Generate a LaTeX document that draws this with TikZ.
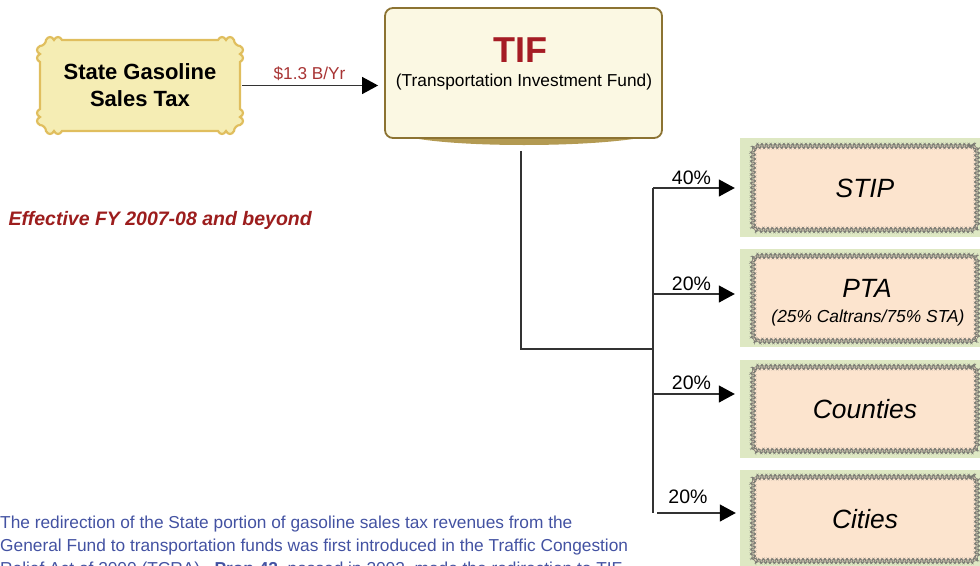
\documentclass[tikz,border=0pt]{standalone}
\usepackage{fontspec}
\setmainfont{Liberation Sans}
\usetikzlibrary{arrows.meta,decorations.pathmorphing}

\definecolor{plaquefill}{HTML}{F5EDB4}
\definecolor{plaqueline}{HTML}{E0BE5E}
\definecolor{fundfill}{HTML}{FBF8E3}
\definecolor{fundline}{HTML}{8C7332}
\definecolor{fundshade}{HTML}{B39A52}
\definecolor{panelgreen}{HTML}{DEE8C3}
\definecolor{peach}{HTML}{FCE4CE}
\definecolor{zigline}{HTML}{7C7C74}
\definecolor{wire}{HTML}{333333}
\definecolor{tifred}{HTML}{A51C24}
\definecolor{amountred}{HTML}{A83434}
\definecolor{notered}{HTML}{9C1D1D}
\definecolor{noteblue}{HTML}{4352A2}

\begin{document}
\begin{tikzpicture}[x=1pt,y=-1pt,
  plaquetext/.style={minimum width=204pt, minimum height=95pt, inner sep=0pt,
    align=center, font=\fontsize{22}{27}\selectfont\bfseries},
  plaqueedge/.style={draw=plaqueline, line width=2.2pt, fill=plaquefill},
  fund/.style={draw=fundline, line width=1.8pt, fill=fundfill,
    rounded corners=8pt, minimum width=277pt, minimum height=130pt, inner sep=0pt},
  panel/.style={fill=panelgreen, minimum width=245pt, inner sep=0pt},
  share/.style={draw=zigline, line width=0.6pt, fill=peach, rounded corners=5pt,
    decorate, decoration={zigzag, segment length=4.4pt, amplitude=1.8pt},
    minimum width=224pt, inner sep=0pt,
    font=\fontsize{26.4}{31}\selectfont\itshape},
  sharenote/.style={font=\fontsize{17.4}{21}\selectfont\itshape, inner sep=0pt},
  pct/.style={font=\fontsize{19.5}{23}\selectfont, inner sep=0pt},
  wireline/.style={draw=wire, line width=1.2pt},
  flow/.style={draw=wire, line width=1.3pt,
    -{Triangle[length=16pt,width=17pt,color=black]}},
  note/.style={anchor=base west, inner sep=0pt, text=noteblue,
    font=\fontsize{17.3}{23}\selectfont}
]
\clip (0,0) rectangle (980,565);

% source plaque: straight sides, scalloped corners
\node[plaquetext] (gas) at (140,85.5) {};
\def\pa{100}\def\pb{45.5}
\begin{scope}[shift={(gas.center)}]
\path[plaqueedge]
  ({-\pa+22},-\pb) -- ({\pa-22},-\pb)
  .. controls ({\pa-20},{-\pb-4}) and ({\pa-16},{-\pb-4}) .. ({\pa-14},-\pb)
  .. controls ({\pa-12},{-\pb-4}) and ({\pa-8},{-\pb-4}) .. ({\pa-6},-\pb)
  .. controls ({\pa-6},{-\pb+3}) and ({\pa-3},{-\pb+6}) .. (\pa,{-\pb+6})
  .. controls ({\pa+4},{-\pb+8}) and ({\pa+4},{-\pb+12}) .. (\pa,{-\pb+14})
  .. controls ({\pa+4},{-\pb+16}) and ({\pa+4},{-\pb+20}) .. (\pa,{-\pb+22})
  -- (\pa,{\pb-22})
  .. controls ({\pa+4},{\pb-20}) and ({\pa+4},{\pb-16}) .. (\pa,{\pb-14})
  .. controls ({\pa+4},{\pb-12}) and ({\pa+4},{\pb-8}) .. (\pa,{\pb-6})
  .. controls ({\pa-3},{\pb-6}) and ({\pa-6},{\pb-3}) .. ({\pa-6},\pb)
  .. controls ({\pa-8},{\pb+4}) and ({\pa-12},{\pb+4}) .. ({\pa-14},\pb)
  .. controls ({\pa-16},{\pb+4}) and ({\pa-20},{\pb+4}) .. ({\pa-22},\pb)
  -- ({-\pa+22},\pb)
  .. controls ({-\pa+20},{\pb+4}) and ({-\pa+16},{\pb+4}) .. ({-\pa+14},\pb)
  .. controls ({-\pa+12},{\pb+4}) and ({-\pa+8},{\pb+4}) .. ({-\pa+6},\pb)
  .. controls ({-\pa+6},{\pb-3}) and ({-\pa+3},{\pb-6}) .. (-\pa,{\pb-6})
  .. controls ({-\pa-4},{\pb-8}) and ({-\pa-4},{\pb-12}) .. (-\pa,{\pb-14})
  .. controls ({-\pa-4},{\pb-16}) and ({-\pa-4},{\pb-20}) .. (-\pa,{\pb-22})
  -- (-\pa,{-\pb+22})
  .. controls ({-\pa-4},{-\pb+20}) and ({-\pa-4},{-\pb+16}) .. (-\pa,{-\pb+14})
  .. controls ({-\pa-4},{-\pb+12}) and ({-\pa-4},{-\pb+8}) .. (-\pa,{-\pb+6})
  .. controls ({-\pa+3},{-\pb+6}) and ({-\pa+6},{-\pb+3}) .. ({-\pa+6},-\pb)
  .. controls ({-\pa+8},{-\pb-4}) and ({-\pa+12},{-\pb-4}) .. ({-\pa+14},-\pb)
  .. controls ({-\pa+16},{-\pb-4}) and ({-\pa+20},{-\pb-4}) .. ({-\pa+22},-\pb)
  -- cycle;
\end{scope}
\node[plaquetext] (gaslabel) at (gas.center) {State Gasoline\\[0pt]Sales Tax};

% fund box with its curled shadow
\fill[fundshade] (404,136) .. controls (450,148) and (596,148) .. (650,136) -- cycle;
\node[fund] (tif) at (523.5,73) {};
\node[text=tifred, font=\fontsize{36}{40}\selectfont\bfseries, inner sep=0pt]
  (tiftitle) at (520,50) {TIF};
\node[font=\fontsize{17.3}{20}\selectfont, inner sep=0pt]
  (tifsub) at (524,82) {(Transportation Investment Fund)};

\draw[flow, shorten >=6pt] (gas.east) -- (gas.east -| tif.west);
\node[text=amountred, font=\fontsize{17.2}{20}\selectfont, inner sep=0pt]
  (amount) at (309.5,74) {\$1.3 B/Yr};

\node[anchor=west, text=notered, font=\fontsize{19.5}{23}\selectfont\bfseries\itshape, inner sep=0pt]
  (effective) at (8.5,220) {Effective FY 2007-08 and beyond};

% destination panels
\node[panel, minimum height=99pt] (stipbg) at (862.5,187.5) {};
\node[panel, minimum height=98pt] (ptabg) at (862.5,298) {};
\node[panel, minimum height=98pt] (countiesbg) at (862.5,409) {};
\node[panel, minimum height=98pt] (citiesbg) at (862.5,519) {};

\node[share, minimum height=84pt] (stip) at (865,188) {STIP};
\node[share, minimum height=85pt] (pta) at (865,298.5) {};
\node[share, minimum height=84pt] (counties) at (865,409) {Counties};
\node[share, minimum height=84pt] (cities) at (865,519) {Cities};
\node[font=\fontsize{26.4}{31}\selectfont\itshape, inner sep=0pt] (ptatitle) at (867,288) {PTA};
\node[sharenote] (ptanote) at (868,318) {(25\% Caltrans/75\% STA)};

% split of the fund
\coordinate (junction) at (653,349);
\coordinate (b1) at (653,188);
\coordinate (b2) at (653,294);
\coordinate (b3) at (653,394);
\coordinate (b4) at (657,513);
\coordinate (trunkend) at (653,513);

\draw[wireline] ([xshift=-2.5pt,yshift=-12pt]tif.south) |- (junction);
\draw[wireline] (b1) -- (trunkend);

\draw[flow, shorten >=5pt] (b1) -- (b1 -| stipbg.west);
\draw[flow, shorten >=5pt] (b2) -- (b2 -| ptabg.west);
\draw[flow, shorten >=5pt] (b3) -- (b3 -| countiesbg.west);
\draw[flow, shorten >=4pt] (b4) -- (b4 -| citiesbg.west);

\node[pct] (p1) at (691.5,178) {40\%};
\node[pct] (p2) at (691.5,284) {20\%};
\node[pct] (p3) at (691.5,383) {20\%};
\node[pct] (p4) at (688,497) {20\%};

% explanatory note
\node[note] (note1) at (0,528.5) {The redirection of the State portion of gasoline sales tax revenues from the};
\node[note] (note2) at (0,551.5) {General Fund to transportation funds was first introduced in the Traffic Congestion};
\node[note] (note3) at (0,574.5) {Relief Act of 2000 (TCRA).\ \ \textbf{Prop 42}, passed in 2002, made the redirection to TIF};
\end{tikzpicture}
\end{document}
